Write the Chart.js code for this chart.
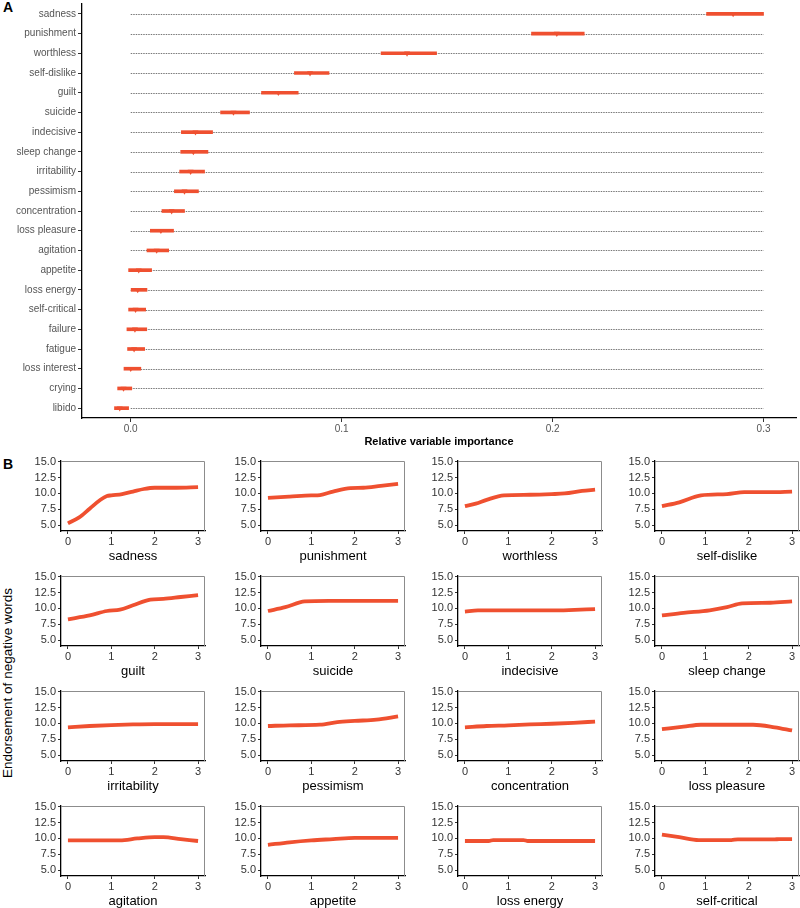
<!DOCTYPE html>
<html>
<head>
<meta charset="utf-8">
<script src="https://cdn.jsdelivr.net/npm/chart.js@4.4.1/dist/chart.umd.min.js"></script>
<style>
  body { margin: 0; background: #fff; width: 800px; height: 908px; position: relative; overflow: hidden;
         font-family: "Liberation Sans", Arial, sans-serif; }
  canvas { position: absolute; }
  .tag { position: absolute; font-weight: bold; font-size: 14px; color: #000; }
  #ytitle { position: absolute; left: 7px; top: 683px; font-size: 13.5px; color: #000; white-space: nowrap;
            transform: translate(-50%, -50%) rotate(-90deg); }
</style>
</head>
<body>
<div class="tag" style="left:3px;top:-1px">A</div>
<div class="tag" style="left:3px;top:456px">B</div>
<div id="ytitle">Endorsement of negative words</div>
<canvas id="imp" width="800" height="450" style="left:0;top:0"></canvas>

<script>
// ---------------------------------------------------------------------------
// Panel A: relative variable importance (top to bottom)
// ---------------------------------------------------------------------------
const impNames = ['sadness', 'punishment', 'worthless', 'self-dislike', 'guilt', 'suicide',
  'indecisive', 'sleep change', 'irritability', 'pessimism', 'concentration', 'loss pleasure',
  'agitation', 'appetite', 'loss energy', 'self-critical', 'failure', 'fatigue',
  'loss interest', 'crying', 'libido'];
const impMid = [0.2856, 0.202, 0.131, 0.085, 0.070, 0.0487, 0.0307, 0.0297, 0.0284, 0.0255,
  0.0194, 0.0143, 0.0123, 0.0038, 0.0033, 0.0023, 0.0020, 0.0016, 0.0000, -0.0034, -0.0052];
const impLo = [0.273, 0.190, 0.1187, 0.0776, 0.062, 0.0426, 0.024, 0.0237, 0.0232, 0.0207,
  0.0148, 0.0093, 0.0077, -0.0010, 0.0002, -0.0010, -0.0018, -0.0015, -0.0032, -0.0062, -0.0077];
const impHi = [0.300, 0.215, 0.145, 0.094, 0.0794, 0.0563, 0.0388, 0.0366, 0.035, 0.0321,
  0.0255, 0.0203, 0.018, 0.0099, 0.0077, 0.0071, 0.0076, 0.0066, 0.0048, 0.0005, -0.0010];
const impTicks = [0, 0.1, 0.2, 0.3];
const refStart = 0, refEnd = 0.3;

// ---------------------------------------------------------------------------
// Panel B: partial dependence curves, [item score, endorsement]
// ---------------------------------------------------------------------------
const pdSadness = [[0,5.3],[0.25,6.2],[0.5,7.6],[0.75,9.0],[0.9,9.6],[1,9.7],[1.25,9.9],[1.5,10.3],[1.75,10.7],[2,10.9],[2.5,10.9],[3,11.0]];
const pdPunishment = [[0,9.3],[0.5,9.5],[1,9.7],[1.2,9.75],[1.5,10.3],[1.9,10.85],[2.2,10.9],[2.6,11.2],[3,11.5]];
const pdWorthless = [[0,8.0],[0.25,8.4],[0.5,9.0],[0.9,9.7],[1.5,9.8],[2,9.9],[2.3,10.0],[2.7,10.4],[3,10.6]];
const pdSelfDislike = [[0,8.0],[0.4,8.6],[0.9,9.7],[1.5,9.9],[1.9,10.2],[2.5,10.2],[3,10.3]];
const pdGuilt = [[0,8.3],[0.5,8.9],[0.9,9.6],[1.2,9.8],[1.5,10.5],[1.9,11.4],[2.2,11.5],[2.6,11.8],[3,12.1]];
const pdSuicide = [[0,9.6],[0.4,10.2],[0.85,11.1],[1.4,11.2],[2,11.2],[3,11.2]];
const pdIndecisive = [[0,9.5],[0.3,9.7],[1,9.7],[2,9.7],[2.4,9.75],[3,9.9]];
const pdSleepChange = [[0,8.9],[0.5,9.3],[1.1,9.7],[1.5,10.2],[1.85,10.8],[2.5,10.9],[3,11.1]];
const pdIrritability = [[0,9.4],[0.5,9.6],[1,9.75],[1.5,9.85],[2,9.9],[3,9.9]];
const pdPessimism = [[0,9.6],[0.5,9.7],[1.2,9.8],[1.6,10.2],[2,10.4],[2.5,10.6],[3,11.1]];
const pdConcentration = [[0,9.4],[0.5,9.6],[1,9.7],[1.5,9.85],[2,9.95],[2.5,10.1],[3,10.3]];
const pdLossPleasure = [[0,9.1],[0.5,9.5],[0.9,9.8],[1.5,9.8],[2.1,9.8],[2.6,9.4],[3,8.9]];
const pdAgitation = [[0,9.7],[1,9.7],[1.2,9.7],[1.6,10.0],[2,10.2],[2.2,10.2],[2.6,9.9],[3,9.6]];
const pdAppetite = [[0,9.0],[0.5,9.4],[1,9.7],[1.5,9.9],[2,10.1],[3,10.1]];
const pdLossEnergy = [[0,9.6],[0.55,9.6],[0.65,9.75],[1.35,9.75],[1.45,9.6],[3,9.6]];
const pdSelfCritical = [[0,10.6],[0.4,10.2],[0.85,9.75],[1.6,9.75],[1.75,9.85],[2.6,9.85],[2.7,9.9],[3,9.9]];

const pdNames = ['sadness', 'punishment', 'worthless', 'self-dislike', 'guilt', 'suicide',
  'indecisive', 'sleep change', 'irritability', 'pessimism', 'concentration', 'loss pleasure',
  'agitation', 'appetite', 'loss energy', 'self-critical'];
const pdCurves = [pdSadness, pdPunishment, pdWorthless, pdSelfDislike, pdGuilt, pdSuicide,
  pdIndecisive, pdSleepChange, pdIrritability, pdPessimism, pdConcentration, pdLossPleasure,
  pdAgitation, pdAppetite, pdLossEnergy, pdSelfCritical];
const pdXTicks = [0, 1, 2, 3];
const pdYTicks = [5, 7.5, 10, 12.5, 15];

const RED = '#EF5030';
const FONT = '"Liberation Sans", Arial, sans-serif';
Chart.defaults.font.family = FONT;

// vertical axes should not reserve room for half of the end labels
function noEndPadding(s) {
  s.paddingTop = 0;
  s.paddingBottom = 0;
}

// ---------------------------------------------------------------------------
// Panel A chart
// ---------------------------------------------------------------------------
const dottedRows = {
  id: 'dottedRows',
  beforeDatasetsDraw(chart) {
    const { ctx, scales: { x, y } } = chart;
    ctx.save();
    ctx.setLineDash([1.5, 1]);
    ctx.strokeStyle = '#555';
    ctx.lineWidth = 0.8;
    impNames.forEach((n, i) => {
      const py = Math.round(y.getPixelForValue(i)) + 0.5;
      ctx.beginPath();
      ctx.moveTo(x.getPixelForValue(refStart), py);
      ctx.lineTo(x.getPixelForValue(refEnd), py);
      ctx.stroke();
    });
    ctx.restore();
  },
};

new Chart(document.getElementById('imp'), {
  type: 'bar',
  data: {
    labels: impNames,
    datasets: [
      {
        data: impLo.map((l, i) => [l, impHi[i]]),
        backgroundColor: RED,
        barThickness: 3,
        order: 2,
      },
      {
        type: 'line',
        data: impMid,
        showLine: false,
        pointStyle: 'triangle',
        rotation: 180,
        pointRadius: 3.4,
        pointBorderWidth: 0,
        pointBackgroundColor: RED,
        order: 1,
      },
    ],
  },
  options: {
    indexAxis: 'y',
    responsive: false,
    animation: false,
    devicePixelRatio: 1,
    layout: { padding: { top: 2, right: 1, left: 0, bottom: 0 } },
    plugins: { legend: { display: false }, tooltip: { enabled: false } },
    scales: {
      x: {
        type: 'linear',
        min: -0.0231,
        max: 0.3154,
        afterBuildTicks: s => { s.ticks = impTicks.map(v => ({ value: v })); },
        afterFit: s => { s.height = 32; },
        grid: { drawOnChartArea: false, tickLength: 4, tickColor: '#333' },
        border: { color: '#000', width: 1.3 },
        ticks: { font: { size: 10 }, color: '#555', padding: 1, callback: v => v.toFixed(1) },
        title: { display: true, text: 'Relative variable importance', color: '#000',
                 font: { size: 11, weight: 'bold' }, padding: { top: 0, bottom: 1 } },
      },
      y: {
        type: 'category',
        offset: true,
        afterFit: s => { s.width = 82; noEndPadding(s); },
        grid: { drawOnChartArea: false, offset: false, tickLength: 4, tickColor: '#333' },
        border: { color: '#000', width: 1.3 },
        ticks: { font: { size: 10 }, color: '#555', padding: 2 },
      },
    },
  },
  plugins: [dottedRows],
});

// ---------------------------------------------------------------------------
// Panel B small multiples
// ---------------------------------------------------------------------------
const colLeft = [61, 261, 458, 655];
const rowTop = [461, 576, 691, 806];

const frameTopRight = {
  id: 'frameTopRight',
  afterDraw(chart) {
    const { ctx, chartArea: a } = chart;
    ctx.save();
    ctx.strokeStyle = '#8c8c8c';
    ctx.lineWidth = 1;
    ctx.beginPath();
    ctx.moveTo(a.left, a.top + 0.5);
    ctx.lineTo(a.right - 0.5, a.top + 0.5);
    ctx.lineTo(a.right - 0.5, a.bottom);
    ctx.stroke();
    ctx.restore();
  },
};

pdCurves.forEach((curve, i) => {
  const col = i % 4, row = Math.floor(i / 4);
  const cv = document.createElement('canvas');
  cv.width = 195;
  cv.height = 110;
  cv.style.left = (colLeft[col] - 50) + 'px';
  cv.style.top = (rowTop[row] - 6) + 'px';
  document.body.appendChild(cv);

  new Chart(cv, {
    type: 'line',
    data: {
      datasets: [{
        data: curve.map(([x, y]) => ({ x, y })),
        borderColor: RED,
        borderWidth: 3.8,
        pointRadius: 0,
        cubicInterpolationMode: 'monotone',
        fill: false,
      }],
    },
    options: {
      responsive: false,
      animation: false,
      devicePixelRatio: 1,
      layout: { padding: { top: 6, right: 1, left: 0, bottom: 0 } },
      plugins: { legend: { display: false }, tooltip: { enabled: false } },
      scales: {
        x: {
          type: 'linear',
          min: -0.16,
          max: 3.16,
          afterBuildTicks: s => { s.ticks = pdXTicks.map(v => ({ value: v })); },
          afterFit: s => { s.height = 34; },
          grid: { drawOnChartArea: false, tickLength: 3, tickColor: '#333' },
          border: { color: '#000', width: 1.3 },
          ticks: { font: { size: 11 }, color: '#333', padding: 1, callback: v => String(v) },
          title: { display: true, text: pdNames[i], color: '#000', font: { size: 13 },
                   padding: { top: 0, bottom: 1 } },
        },
        y: {
          type: 'linear',
          min: 4.1,
          max: 15.1,
          afterBuildTicks: s => { s.ticks = pdYTicks.map(v => ({ value: v })); },
          afterFit: s => { s.width = 50; noEndPadding(s); },
          grid: { drawOnChartArea: false, tickLength: 3, tickColor: '#333' },
          border: { color: '#000', width: 1.3 },
          ticks: { font: { size: 11 }, color: '#333', padding: 2, callback: v => v.toFixed(1) },
        },
      },
    },
    plugins: [frameTopRight],
  });
});
</script>
</body>
</html>
